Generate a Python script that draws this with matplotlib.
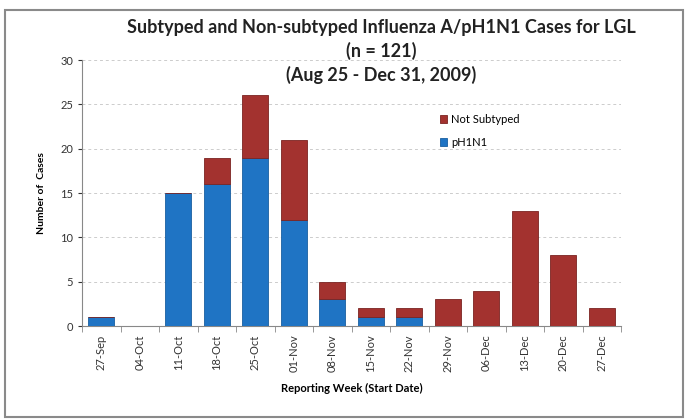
import matplotlib
matplotlib.use("Agg")
import matplotlib.pyplot as plt
from matplotlib.patches import Rectangle
import numpy as np

weeks = ["27-Sep", "04-Oct", "11-Oct", "18-Oct", "25-Oct", "01-Nov", "08-Nov",
         "15-Nov", "22-Nov", "29-Nov", "06-Dec", "13-Dec", "20-Dec", "27-Dec"]
ph1n1 = [1, 0, 15, 16, 19, 12, 3, 1, 1, 0, 0, 0, 0, 0]
not_subtyped = [0, 0, 0, 3, 7, 9, 2, 1, 1, 3, 4, 13, 8, 2]

blue = "#1f74c4"
red = "#a3322f"

plt.rcParams["font.family"] = ["Lato", "DejaVu Sans"]

fig = plt.figure(figsize=(6.88, 4.19), dpi=100)
ax = fig.add_axes([82 / 688, 1 - 326 / 419, (621 - 82) / 688, (326 - 60) / 419])

x = np.arange(len(weeks))
ax.bar(x, ph1n1, width=0.68, color=blue, edgecolor="#1a5fa0", linewidth=0.6,
       label="pH1N1", zorder=3)
ax.bar(x, not_subtyped, width=0.68, bottom=ph1n1, color=red, edgecolor="#7a2422",
       linewidth=0.6, label="Not Subtyped", zorder=3)

ax.set_xlim(-0.5, len(weeks) - 0.5)
ax.set_ylim(0, 30)
ax.set_yticks(range(0, 31, 5))
ax.set_xticks(x)
ax.set_xticklabels(weeks, rotation=90, fontsize=8, color="#333333")
ax.tick_params(axis="y", labelsize=8, colors="#333333", length=3)
ax.tick_params(axis="x", length=0, pad=6)
# minor ticks between categories like the original
ax.set_xticks(np.arange(-0.5, len(weeks), 1), minor=True)
ax.tick_params(axis="x", which="minor", length=4, color="#888888")

ax.grid(axis="y", linestyle=(0, (3, 3)), color="#cccccc", linewidth=0.7, zorder=0)
for s in ["top", "right"]:
    ax.spines[s].set_visible(False)
ax.spines["left"].set_color("#888888")
ax.spines["bottom"].set_color("#888888")

ax.set_ylabel("Number of  Cases", fontsize=7.5, fontweight="bold", labelpad=10)
ax.set_xlabel("Reporting Week (Start Date)", fontsize=8, fontweight="bold", labelpad=8)

handles, labels = ax.get_legend_handles_labels()
ax.legend(handles[::-1], labels[::-1], loc="upper left", bbox_to_anchor=(0.645, 0.835),
          frameon=False, fontsize=8, handlelength=0.7, handleheight=0.7,
          handletextpad=0.3, labelspacing=1.1)

fig.text(381 / 688, 1 - 28 / 419, "Subtyped and Non-subtyped Influenza A/pH1N1 Cases for LGL",
         ha="center", va="center", fontsize=13, fontweight="bold", color="#222222")
fig.text(381 / 688, 1 - 51 / 419, "(n = 121)", ha="center", va="center",
         fontsize=13, fontweight="bold", color="#222222")
fig.text(381 / 688, 1 - 75 / 419, "(Aug 25 - Dec 31, 2009)", ha="center", va="center",
         fontsize=13, fontweight="bold", color="#222222")

fig.patches.append(Rectangle((5 / 688, 0.005), 678 / 688, 1 - 10 / 419 - 0.005,
                             transform=fig.transFigure, fill=False,
                             edgecolor="#8a8a8a", linewidth=1.5))

fig.savefig("out.png", dpi=100)
